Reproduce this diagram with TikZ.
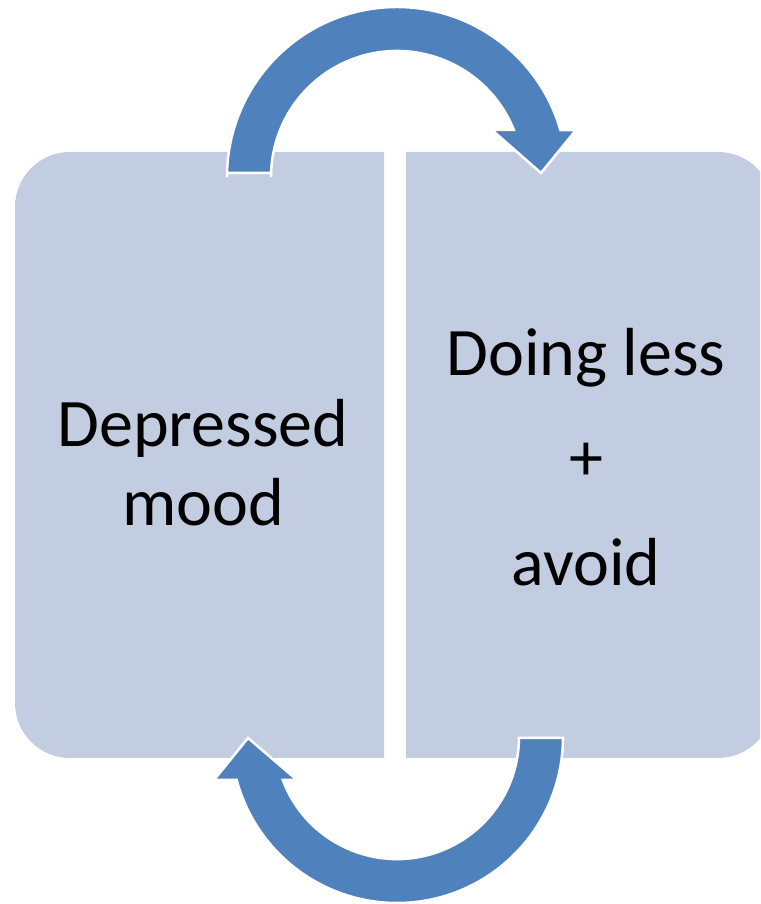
\documentclass[tikz,border=0pt]{standalone}
\usepackage{fontspec}
\setmainfont{Carlito}
\definecolor{boxfill}{HTML}{C3CDE2}
\definecolor{arrowblue}{HTML}{4F81BD}
\tikzset{
  half/.style  = {fill = boxfill, draw = none},
  lbl/.style   = {align = center, inner sep = 0pt,
                  font = \fontsize{68pt}{79pt}\selectfont},
  block/.style = {fill = arrowblue, draw = white, line width = 2.5pt,
                  line join = miter}
}
\begin{document}
\begin{tikzpicture}[x=1pt,y=1pt]
  \useasboundingbox (0,0) rectangle (760,904);
  \begin{scope}
    \clip (0,0) rectangle (760,904);
    % the two halves of the square
    \draw[half] (384,146) -- (70,146) arc[start angle=270,end angle=180,radius=55]
                -- (15,697) arc[start angle=180,end angle=90,radius=55] -- (384,752) -- cycle;
    \draw[half] (406,146) -- (718,146) arc[start angle=270,end angle=360,radius=55]
                -- (773,697) arc[start angle=0,end angle=90,radius=55] -- (406,752) -- cycle;
  \end{scope}
  \node[lbl] (mood)  at (203,441) {Depressed\\mood};
  \node[lbl,font=\fontsize{68pt}{105pt}\selectfont] (doing) at (586,447) {Doing less\\+\\avoid};
  % the two turning arrows
  \coordinate (top)    at (397,727);
  \coordinate (bottom) at (397,167);
  \draw[block] (227,731) -- (227,727) arc[start angle=180,end angle=16,radius=170]
               -- (576,774) -- (541,731) -- (492,774) -- (513.9,774)
               arc[start angle=21.9,end angle=180,radius=126] -- (271,731) -- cycle;
  \draw[block] (563,166) -- (563,167) arc[start angle=0,end angle=-165,radius=166]
               -- (214,124) -- (248,166) -- (297,124) -- (282.8,124)
               arc[start angle=-159.4,end angle=0,radius=122] -- (519,166) -- cycle;
\end{tikzpicture}
\end{document}
